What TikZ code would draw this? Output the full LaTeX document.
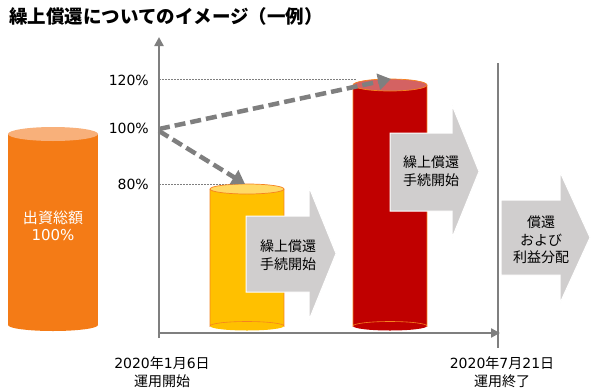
\documentclass[tikz,border=0pt]{standalone}
\usepackage{fontspec}
\setmainfont{Noto Sans CJK JP}
\newfontfamily\lat{DejaVu Sans}
\usetikzlibrary{arrows.meta}
\definecolor{axisgrey}{HTML}{7F7F7F}
\definecolor{boxgrey}{HTML}{D0CECE}
\definecolor{orbody}{HTML}{F47B16}
\definecolor{ortop}{HTML}{F8B07A}
\definecolor{yebody}{HTML}{FFC000}
\definecolor{yetop}{HTML}{FFD966}
\definecolor{rebody}{HTML}{C00000}
\definecolor{retop}{HTML}{D46262}
\definecolor{rim}{HTML}{F58220}
\begin{document}
\begin{tikzpicture}[x=1pt,y=-1pt,
  lbl/.style={font=\fontsize{14}{17.5}\selectfont, align=center, inner sep=0pt},
  axisline/.style={draw=axisgrey, line width=2.5pt},
  dotline/.style={draw=axisgrey, line width=0.6pt, dash pattern=on 1.5pt off 1.5pt},
  dasharrow/.style={draw=axisgrey, line width=4.5pt, dash pattern=on 11pt off 5pt, -{Triangle[length=13pt,width=16pt]}},
  blockarrow/.style={fill=boxgrey, draw=white, line width=1pt}]
\useasboundingbox (0,0) rectangle (602,391);

% title
\node[anchor=west, inner sep=0pt, font=\fontsize{18.5}{20}\selectfont\bfseries] (title) at (9,16) {繰上償還についてのイメージ（一例）};

% orange cylinder
\fill[orbody] (8,134) rectangle (98,325);
\fill[orbody] (53,325) ellipse [x radius=45, y radius=6];
\fill[ortop] (53,134) ellipse [x radius=45, y radius=7];
\node[lbl, text=white, font=\fontsize{15}{17.5}\selectfont] (total) at (53,226) {出資総額\\{\lat 100\%}};

% axes
\coordinate (ytip) at (159,37);
\coordinate (xtip) at (500,333);
\draw[axisline, -{Triangle[length=9pt,width=9pt]}] (159,338) -- (ytip);
\draw[axisline, -{Triangle[length=9pt,width=9pt]}] (157.75,333) -- (xtip);
\draw[axisline, line width=2pt] (498,63) -- (498,348);

% y labels
\node[lbl, anchor=east] (p120) at (149,80) {\lat 120\%};
\node[lbl, anchor=east] (p100) at (149,128) {\lat 100\%};
\node[lbl, anchor=east] (p80) at (149,184) {\lat 80\%};

% dotted guide lines
\draw[dotline] (159,79.5) -- (356,79.5);
\draw[dotline] (159,184) -- (246,184);

% yellow cylinder
\fill[yebody] (210,189) rectangle (284,326);
\fill[yebody] (247,326) ellipse [x radius=37, y radius=4.5];
\draw[rim, line width=0.6pt] (210,189) -- (210,326) arc[start angle=180, end angle=360, x radius=37, y radius=4.5] -- (284,189);
\fill[yetop, draw=rim, line width=0.7pt] (247,189) ellipse [x radius=37, y radius=5];

% red cylinder
\fill[rebody] (353,85) rectangle (427,326);
\fill[rebody] (390,326) ellipse [x radius=37, y radius=4.5];
\draw[rim, line width=0.6pt] (353,85) -- (353,326) arc[start angle=180, end angle=360, x radius=37, y radius=4.5] -- (427,85);
\fill[retop, draw=rim, line width=0.7pt] (390,85) ellipse [x radius=37, y radius=6];

% dashed arrows
\coordinate (toRed) at (391,79);
\coordinate (toYellow) at (245,184);
\draw[dasharrow] (159,129) -- (toRed);
\draw[dasharrow] (159,131) -- (toYellow);

% block arrows
\draw[blockarrow] (246,216) -- (309,216) -- (309,187) -- (336,253.5) -- (309,320) -- (309,292) -- (246,292) -- cycle;
\node[lbl] (a1) at (288,255) {繰上償還\\手続開始};
\draw[blockarrow] (390,133) -- (452,133) -- (452,105) -- (479,171.5) -- (452,238) -- (452,211) -- (390,211) -- cycle;
\node[lbl] (a2) at (431,171) {繰上償還\\手続開始};
\draw[blockarrow] (501,200) -- (560,200) -- (560,172) -- (590,237.5) -- (560,303) -- (560,275) -- (501,275) -- cycle;
\node[lbl] (a3) at (541,240) {償還\\および\\利益分配};

% date labels
\node[lbl] (start) at (162,372) {{\lat 2020}年{\lat 1}月{\lat 6}日\\運用開始};
\node[lbl] (end) at (502,372) {{\lat 2020}年{\lat 7}月{\lat 21}日\\運用終了};
\end{tikzpicture}
\end{document}
